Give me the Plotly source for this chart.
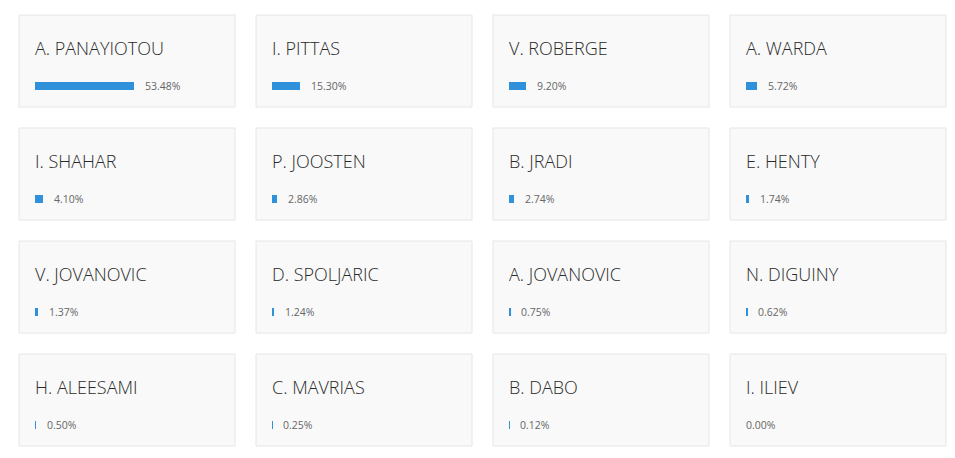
import plotly.graph_objects as go

names = ["A. PANAYIOTOU", "I. PITTAS", "V. ROBERGE", "A. WARDA",
         "I. SHAHAR", "P. JOOSTEN", "B. JRADI", "E. HENTY",
         "V. JOVANOVIC", "D. SPOLJARIC", "A. JOVANOVIC", "N. DIGUINY",
         "H. ALEESAMI", "C. MAVRIAS", "B. DABO", "I. ILIEV"]
values = [53.48, 15.30, 9.20, 5.72,
          4.10, 2.86, 2.74, 1.74,
          1.37, 1.24, 0.75, 0.62,
          0.50, 0.25, 0.12, 0.00]

W, H = 955, 458
NCOLS = 4
CARD_X0, CARD_Y0 = 19, 15
CARD_W, CARD_H = 216, 92
STEP_X, STEP_Y = 237, 113
PAD = 16
BAR_LEN = 185
BAR_H = 8
BAR_YC = 71
BAR_COLOR = "#2f91da"

fig = go.Figure()
shapes = []
annotations = []
layout_axes = {}

for i, (name, val) in enumerate(zip(names, values)):
    r, c = divmod(i, NCOLS)
    cx = CARD_X0 + c * STEP_X
    cy = CARD_Y0 + r * STEP_Y
    # card background
    shapes.append(dict(type="rect", xref="paper", yref="paper",
                       x0=cx / W, x1=(cx + CARD_W) / W,
                       y0=1 - (cy + CARD_H) / H, y1=1 - cy / H,
                       fillcolor="#f9f9f9", line=dict(color="#e6e6e6", width=1),
                       layer="below"))
    # name
    annotations.append(dict(xref="paper", yref="paper",
                            x=(cx + PAD) / W, y=1 - (cy + 33) / H,
                            xanchor="left", yanchor="middle", showarrow=False,
                            xshift=-2,
                            text=name,
                            font=dict(family="Open Sans", size=18, color="#2a2a2a",
                                      weight=300)))
    k = "" if i == 0 else str(i + 1)
    xa, ya = "x" + k, "y" + k
    layout_axes["xaxis" + k] = dict(domain=[(cx + PAD) / W, (cx + PAD + BAR_LEN) / W],
                                    range=[0, 100], visible=False, fixedrange=True,
                                    anchor=ya)
    layout_axes["yaxis" + k] = dict(domain=[1 - (cy + BAR_YC + BAR_H / 2) / H,
                                            1 - (cy + BAR_YC - BAR_H / 2) / H],
                                    range=[-0.5, 0.5], visible=False, fixedrange=True,
                                    anchor=xa)
    fig.add_trace(go.Bar(x=[val], y=[0], orientation="h", width=1,
                         marker=dict(color=BAR_COLOR, line=dict(width=0)),
                         xaxis=xa, yaxis=ya, hoverinfo="skip", showlegend=False))
    annotations.append(dict(xref=xa, yref=ya, x=val, y=0,
                            xanchor="left", yanchor="middle", showarrow=False,
                            xshift=(9 if val > 0 else -2),
                            text=f"{val:.2f}%",
                            font=dict(family="Open Sans", size=10.5, color="#666666")))

fig.update_layout(width=W, height=H, margin=dict(l=0, r=0, t=0, b=0),
                  paper_bgcolor="white", plot_bgcolor="rgba(0,0,0,0)",
                  shapes=shapes, annotations=annotations, bargap=0,
                  **layout_axes)

fig.write_html("out.html")
